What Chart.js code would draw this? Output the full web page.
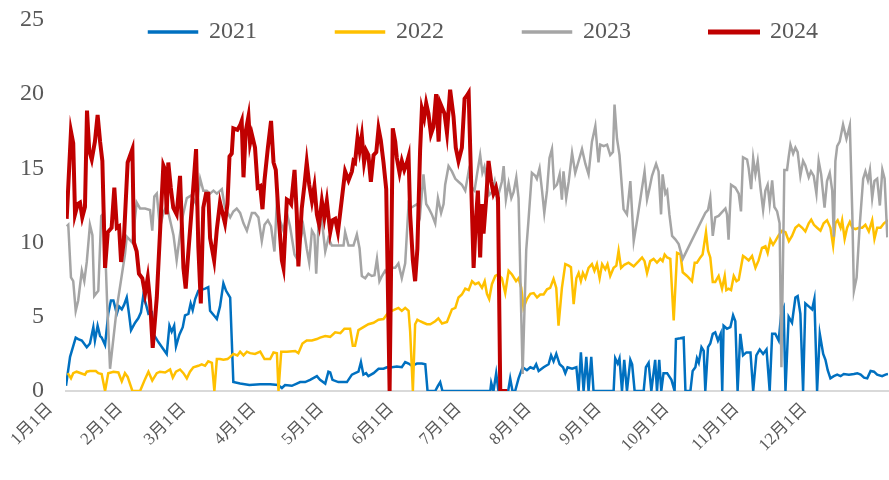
<!DOCTYPE html>
<html>
<head>
<meta charset="utf-8">
<script src="https://cdn.jsdelivr.net/npm/chart.js@4/dist/chart.umd.min.js"></script>
<style>
  html, body { margin: 0; padding: 0; background: #fff; }
</style>
</head>
<body>
<canvas id="chart" width="889" height="480"></canvas>
<script>
// x values are day of year (0 = 1月1日)
const monthStarts = [0, 31, 59, 90, 120, 151, 181, 212, 243, 273, 304, 334];
const monthLabels = ['1月1日', '2月1日', '3月1日', '4月1日', '5月1日', '6月1日', '7月1日', '8月1日', '9月1日', '10月1日', '11月1日', '12月1日'];
const yTicks = [0, 5, 10, 15, 20, 25];
const years = ['2021', '2022', '2023', '2024'];

const days2021 = [0, 1.8, 4.3, 5.4, 7.0, 9.2, 10.6, 12.1, 12.8, 14.0, 15.1, 15.8, 17.3, 18.7, 19.9, 21.0, 22.5, 23.5, 24.7, 25.7, 26.9, 27.9, 28.8, 30.6, 32.0, 33.2, 34.2, 35.3, 36.5, 38.0, 38.7, 40.9, 44.6, 45.8, 46.8, 47.9, 48.7, 50.2, 51.7, 52.7, 54.2, 55.2, 56.1, 57.2, 58.6, 61.6, 63.0, 63.8, 66.0, 66.8, 68.2, 69.7, 70.9, 72.7, 74.1, 77.1, 81.2, 86.0, 90.4, 93.9, 95.6, 97.0, 100.0, 102.2, 103.7, 105.9, 108.1, 111.1, 112.5, 114.8, 116.2, 117.0, 118.0, 120.6, 124.4, 126.6, 128.0, 129.5, 130.6, 131.7, 132.9, 133.9, 136.2, 138.4, 140.6, 142.1, 144.3, 146.5, 148.7, 150.2, 151.7, 153.2, 155.4, 157.6, 159.1, 160.1, 163.5, 164.7, 165.7, 166.7, 187.9, 188.3, 189.3, 190.5, 191.5, 195.8, 196.7, 197.7, 198.9, 200.4, 202.2, 204.1, 205.6, 207.1, 208.2, 209.3, 211.5, 213.7, 214.8, 215.9, 217.1, 218.6, 220.1, 221.1, 222.1, 224.1, 226.0, 227.0, 228.0, 229.2, 230.4, 231.4, 232.6, 233.6, 242.5, 243.2, 244.3, 245.1, 246.2, 247.2, 248.4, 249.9, 250.7, 251.8, 255.8, 256.8, 258.0, 259.2, 260.9, 261.7, 262.7, 263.6, 264.6, 266.2, 268.1, 269.5, 270.1, 272.0, 273.5, 274.3, 276.5, 277.5, 278.7, 279.4, 280.2, 281.4, 282.4, 283.1, 284.3, 285.3, 286.4, 287.5, 288.7, 289.9, 290.6, 291.2, 292.7, 294.2, 295.4, 296.4, 297.4, 298.6, 299.8, 301.3, 303.1, 304.3, 305.7, 307.2, 308.7, 310.2, 311.6, 312.7, 314.1, 315.6, 316.7, 317.8, 318.6, 320.0, 321.5, 323.0, 324.0, 325.2, 326.4, 327.4, 328.9, 330.4, 331.4, 332.6, 333.8, 335.3, 336.3, 337.3, 338.5, 340.0, 341.5, 343.0, 344.4, 346.7, 348.9, 350.4, 351.9, 353.4, 354.8, 356.3, 357.8, 359.2, 361.4, 362.9, 364.0];
const values2021 = [0.35, 2.3, 3.6, 3.5, 3.4, 2.95, 3.2, 4.3, 3.4, 4.4, 3.7, 3.6, 3.1, 5.2, 6.1, 6.1, 5.2, 5.7, 5.5, 5.8, 6.3, 5.2, 4.1, 4.6, 4.9, 5.3, 6.4, 5.9, 5.2, 5.3, 3.85, 3.3, 2.5, 4.4, 4.0, 4.4, 3.0, 3.8, 4.3, 5.1, 5.2, 5.9, 5.45, 6.2, 6.75, 6.9, 7.0, 5.4, 5.0, 4.85, 5.7, 7.25, 6.75, 6.3, 0.6, 0.5, 0.4, 0.45, 0.45, 0.4, 0.2, 0.4, 0.35, 0.5, 0.6, 0.6, 0.75, 1.0, 0.75, 0.5, 1.3, 1.25, 0.75, 0.6, 0.6, 1.1, 1.2, 1.3, 1.95, 1.1, 1.2, 1.0, 1.2, 1.5, 1.5, 1.6, 1.6, 1.65, 1.6, 1.95, 1.85, 1.7, 1.85, 1.85, 1.8, 0, 0, 0.35, 0.6, 0, 0, 0.55, 0, 1.2, 0, 0, 0.85, 0, 0, 0.85, 1.6, 1.4, 1.6, 1.5, 1.8, 1.35, 1.6, 1.8, 2.4, 2.0, 2.5, 1.8, 1.6, 1.2, 1.6, 1.5, 1.6, 0, 2.6, 0, 2.3, 0, 2.3, 0, 0, 2.2, 1.85, 2.2, 0, 2.1, 0, 2.1, 1.8, 0, 0, 1.6, 1.9, 0, 2.1, 0, 2.1, 0, 1.2, 1.2, 0.75, 0, 3.5, 3.55, 3.6, 0, 0, 1.35, 1.6, 2.2, 1.9, 2.95, 2.7, 0, 2.95, 3.2, 3.85, 3.95, 3.4, 3.85, 0, 4.4, 4.2, 4.3, 5.1, 4.7, 0, 3.85, 2.4, 2.6, 2.6, 0, 2.4, 2.8, 2.5, 2.8, 0, 3.85, 3.85, 3.4, 5.2, 5.6, 0, 5.0, 4.6, 6.3, 6.4, 5.2, 0, 5.9, 5.7, 5.5, 6.2, 0, 3.85, 2.5, 2.1, 1.4, 0.85, 1.0, 1.1, 1.0, 1.15, 1.1, 1.15, 1.2, 1.1, 0.9, 0.85, 1.35, 1.3, 1.1, 1.0, 1.1, 1.15];

const days2022 = [0.8, 2.2, 3.2, 4.7, 8.4, 9.2, 10.6, 13.2, 14.3, 15.8, 17.3, 18.7, 21.0, 23.2, 24.7, 26.1, 27.3, 29.4, 32.8, 35.0, 36.5, 38.2, 40.2, 41.6, 43.9, 46.1, 47.3, 48.7, 50.5, 52.0, 53.5, 54.9, 56.4, 58.6, 60.1, 61.6, 63.0, 64.6, 65.7, 66.8, 68.2, 69.7, 71.5, 72.7, 74.1, 75.9, 77.1, 78.6, 80.1, 81.5, 83.7, 86.0, 87.9, 90.4, 91.9, 93.4, 94.1, 95.3, 97.8, 101.5, 102.9, 104.7, 106.6, 108.9, 111.1, 112.5, 114.8, 117.0, 119.2, 121.5, 123.3, 125.8, 127.0, 128.0, 129.5, 131.7, 133.9, 136.2, 138.4, 140.6, 142.8, 145.0, 147.2, 148.7, 150.2, 151.7, 152.4, 153.6, 154.6, 155.6, 156.8, 158.3, 159.8, 161.3, 163.5, 164.9, 166.5, 168.7, 170.9, 172.4, 173.8, 175.3, 176.8, 178.3, 179.8, 181.2, 182.7, 184.2, 185.4, 186.4, 187.4, 188.6, 190.1, 191.3, 193.0, 194.5, 196.0, 197.5, 199.3, 200.4, 201.6, 202.6, 204.1, 205.6, 207.1, 208.6, 210.0, 211.5, 213.0, 214.4, 215.9, 217.1, 218.1, 219.6, 221.1, 222.6, 223.6, 224.8, 226.0, 227.0, 228.0, 228.9, 230.0, 231.4, 232.9, 234.0, 235.1, 236.3, 237.4, 238.8, 239.8, 241.0, 242.5, 243.7, 244.7, 245.8, 247.2, 249.1, 251.4, 253.6, 255.1, 256.2, 257.3, 258.7, 260.2, 261.7, 263.2, 264.2, 265.1, 266.2, 267.6, 269.1, 270.6, 272.1, 273.1, 275.0, 277.2, 278.4, 279.4, 280.9, 281.9, 283.4, 284.3, 285.3, 286.4, 287.5, 289.0, 290.5, 291.7, 292.4, 293.4, 294.5, 295.7, 296.9, 297.9, 299.8, 300.8, 302.3, 303.8, 305.3, 306.7, 308.2, 309.7, 310.7, 311.9, 313.1, 314.1, 315.6, 317.1, 318.6, 320.1, 321.5, 323.0, 324.5, 326.0, 327.4, 328.9, 330.0, 331.2, 332.6, 334.1, 335.5, 337.0, 338.5, 339.7, 340.7, 341.7, 343.0, 343.7, 344.8, 345.9, 347.1, 348.2, 349.6, 351.1, 352.6, 354.0, 355.5, 357.0, 358.0, 359.2, 360.7, 362.2, 364.0];
const values2022 = [1.2, 0.85, 1.2, 1.3, 1.1, 1.3, 1.35, 1.35, 1.2, 1.15, 0, 1.2, 1.3, 1.25, 0.65, 1.2, 0.95, 0, 0, 0.8, 1.3, 0.7, 1.2, 1.3, 1.25, 1.45, 0.9, 1.3, 1.45, 1.2, 0.85, 1.3, 1.6, 1.7, 1.8, 1.7, 2.0, 1.9, 0, 2.15, 2.15, 2.1, 2.15, 2.3, 2.5, 2.4, 2.65, 2.4, 2.65, 2.55, 2.5, 2.65, 2.15, 2.15, 2.6, 2.55, 0, 2.65, 2.65, 2.7, 2.55, 3.2, 3.4, 3.4, 3.5, 3.6, 3.7, 3.65, 3.95, 3.9, 4.2, 4.2, 3.05, 3.05, 4.1, 4.3, 4.5, 4.6, 4.8, 4.85, 5.3, 5.45, 5.6, 5.4, 5.6, 5.4, 4.0, 0, 4.5, 4.8, 4.7, 4.6, 4.5, 4.5, 4.7, 4.9, 4.55, 4.65, 5.5, 5.6, 6.3, 6.5, 6.9, 6.8, 7.4, 7.2, 7.3, 6.95, 7.4, 6.55, 6.2, 7.2, 7.75, 7.85, 7.6, 6.6, 8.1, 7.85, 7.4, 7.6, 6.95, 5.6, 6.2, 6.55, 6.6, 6.3, 6.5, 6.5, 6.85, 6.95, 7.55, 6.95, 4.4, 6.95, 8.55, 8.45, 8.35, 5.85, 7.6, 7.95, 7.4, 7.95, 7.6, 8.3, 8.55, 8.1, 8.55, 7.6, 8.55, 8.2, 8.55, 7.75, 8.3, 8.45, 9.45, 8.3, 8.5, 8.65, 8.4, 8.75, 9.0, 8.75, 7.95, 8.75, 8.9, 8.65, 8.9, 8.75, 9.2, 9.0, 8.9, 4.75, 9.3, 9.2, 8.0, 7.75, 7.4, 8.65, 8.65, 9.0, 9.2, 10.7, 9.45, 9.0, 7.35, 7.35, 7.75, 6.9, 7.75, 6.8, 6.9, 6.8, 7.75, 7.4, 7.5, 9.1, 9.0, 8.8, 9.1, 8.3, 8.8, 9.65, 9.75, 9.3, 10.2, 9.85, 10.1, 10.5, 10.8, 10.7, 10.1, 10.45, 11.0, 11.2, 11.0, 10.75, 11.3, 11.55, 11.2, 11.0, 10.8, 11.3, 11.5, 11.0, 9.8, 11.3, 11.5, 11.0, 11.5, 10.25, 11.0, 11.4, 11.0, 10.9, 11.0, 11.0, 11.2, 10.75, 11.5, 10.25, 11.0, 11.0, 11.3, 11.5];

const days2023 = [0.3, 1.0, 2.2, 3.2, 4.3, 5.4, 7.0, 8.1, 9.2, 10.6, 11.7, 12.5, 14.3, 15.6, 16.8, 18.2, 19.5, 22.5, 26.1, 26.9, 29.4, 31.3, 32.8, 35.0, 37.2, 38.2, 39.1, 40.2, 41.6, 43.1, 44.6, 46.1, 47.6, 49.0, 51.3, 53.5, 55.7, 57.9, 59.4, 60.8, 62.3, 63.8, 65.3, 66.8, 69.0, 70.4, 72.7, 74.1, 75.6, 77.1, 78.6, 80.1, 82.3, 83.7, 85.2, 86.7, 87.9, 89.4, 90.8, 92.3, 93.4, 94.8, 96.3, 97.8, 99.2, 101.2, 102.7, 103.7, 105.1, 106.6, 107.7, 108.9, 110.0, 110.8, 111.8, 113.3, 114.8, 116.2, 117.7, 119.9, 122.9, 123.6, 125.1, 127.3, 128.8, 130.0, 131.0, 132.5, 133.9, 135.4, 136.6, 137.7, 138.8, 139.9, 141.3, 142.8, 144.3, 145.8, 147.2, 148.7, 150.2, 151.7, 152.7, 153.9, 155.6, 156.8, 158.3, 159.5, 160.5, 162.0, 163.5, 164.7, 166.1, 167.2, 167.9, 169.4, 170.9, 172.4, 173.8, 175.3, 176.8, 178.3, 179.8, 180.9, 182.0, 183.4, 184.4, 185.3, 186.4, 187.4, 188.6, 189.8, 190.8, 191.8, 193.0, 193.8, 194.8, 196.0, 197.2, 198.2, 199.4, 200.4, 202.2, 203.8, 204.8, 206.3, 207.8, 208.5, 209.7, 210.8, 211.8, 213.0, 214.1, 215.2, 216.2, 217.4, 218.6, 219.6, 220.3, 221.5, 222.6, 224.1, 225.5, 227.0, 228.5, 230.0, 231.4, 232.9, 234.4, 235.8, 236.6, 238.1, 239.6, 241.0, 242.2, 242.9, 244.0, 245.1, 246.9, 248.4, 249.9, 251.4, 252.9, 254.4, 256.2, 257.3, 258.3, 259.5, 261.3, 262.4, 263.5, 264.2, 265.4, 266.2, 267.2, 268.4, 269.9, 271.3, 273.1, 283.1, 284.3, 285.3, 286.4, 287.5, 289.0, 290.2, 292.0, 292.7, 293.4, 294.5, 296.4, 297.9, 298.9, 299.8, 301.6, 302.3, 303.4, 304.3, 305.3, 306.3, 307.5, 308.7, 309.7, 310.7, 311.6, 312.7, 313.7, 314.9, 316.0, 316.8, 318.1, 319.3, 320.0, 320.8, 322.0, 323.0, 324.0, 325.2, 326.4, 327.4, 328.9, 329.9, 331.1, 332.3, 333.3, 334.4, 335.9, 337.0, 338.2, 339.3, 340.0, 340.7, 341.5, 342.6, 344.1, 345.6, 347.1, 348.2, 348.9, 350.1, 351.5, 353.0, 354.0, 355.1, 356.0, 357.0, 358.0, 359.2, 360.4, 361.5, 362.5, 363.7];
const values2023 = [11.1, 11.2, 7.65, 7.4, 5.4, 6.1, 8.1, 7.4, 8.7, 11.2, 10.5, 6.4, 6.75, 11.8, 12.0, 6.0, 1.5, 5.6, 9.2, 10.4, 10.0, 12.7, 12.3, 12.3, 12.2, 10.8, 13.1, 13.3, 11.0, 12.0, 12.5, 11.5, 10.5, 8.8, 11.5, 13.0, 13.2, 12.5, 14.3, 13.5, 13.5, 13.3, 13.5, 13.3, 13.6, 12.35, 11.7, 12.1, 12.3, 12.0, 11.3, 10.8, 12.0, 12.0, 11.7, 10.1, 11.2, 11.5, 11.1, 9.4, 12.8, 11.5, 10.8, 12.0, 11.1, 9.2, 8.8, 10.1, 11.1, 9.6, 8.65, 10.8, 10.5, 7.9, 11.1, 11.5, 9.4, 10.3, 9.8, 9.8, 9.8, 10.7, 9.8, 9.8, 10.55, 9.6, 7.75, 7.6, 7.9, 7.75, 7.8, 8.9, 7.4, 7.75, 8.1, 7.8, 8.3, 8.3, 8.6, 7.6, 8.6, 12.6, 12.35, 12.45, 12.6, 11.9, 14.6, 12.6, 12.35, 11.9, 11.3, 13.0, 12.0, 12.6, 13.9, 15.15, 14.8, 14.3, 14.1, 13.9, 13.5, 14.8, 13.7, 13.5, 14.6, 15.9, 14.7, 15.1, 14.1, 13.2, 13.4, 14.1, 12.9, 13.4, 14.1, 15.15, 12.9, 14.0, 13.0, 13.4, 14.4, 13.0, 1.15, 9.5, 11.5, 14.7, 14.5, 14.3, 15.0, 13.5, 12.0, 13.5, 15.7, 16.3, 13.7, 13.9, 14.6, 12.9, 14.8, 13.0, 14.1, 16.05, 14.7, 15.5, 16.3, 15.3, 14.6, 16.8, 17.85, 15.4, 16.6, 16.5, 16.6, 15.9, 16.1, 19.3, 17.0, 15.9, 12.25, 11.9, 14.15, 10.1, 11.5, 13.0, 14.8, 12.9, 13.6, 14.5, 15.3, 14.8, 11.9, 14.6, 13.3, 13.5, 11.9, 10.45, 10.2, 9.9, 8.9, 12.0, 12.2, 13.0, 10.45, 11.7, 11.8, 12.0, 12.3, 11.9, 10.2, 13.9, 13.7, 13.3, 12.1, 15.75, 15.6, 15.0, 13.6, 15.7, 14.6, 15.5, 13.7, 12.2, 13.5, 13.9, 12.6, 14.2, 12.4, 12.1, 11.3, 1.6, 14.9, 14.9, 15.75, 16.6, 16.0, 16.4, 16.1, 14.5, 15.5, 15.2, 14.4, 14.8, 14.5, 13.3, 15.5, 14.6, 12.35, 14.15, 14.7, 13.5, 10.4, 15.5, 16.5, 16.8, 17.95, 17.0, 17.9, 11.9, 6.75, 7.65, 11.2, 14.3, 14.8, 14.2, 14.9, 13.0, 14.15, 14.3, 12.5, 14.9, 14.3, 10.35];

const days2024 = [0.3, 2.2, 3.2, 4.0, 5.2, 6.2, 7.2, 8.4, 9.3, 10.3, 11.4, 12.8, 14.0, 15.1, 16.1, 17.3, 18.5, 20.2, 21.4, 22.5, 23.5, 24.4, 25.6, 27.3, 29.4, 30.1, 31.3, 32.3, 33.8, 35.0, 36.2, 37.2, 38.4, 40.2, 43.1, 43.9, 44.6, 45.3, 46.4, 47.5, 49.0, 50.5, 52.0, 53.0, 54.2, 55.7, 57.6, 58.6, 59.7, 60.8, 62.0, 63.0, 63.8, 65.6, 66.8, 68.2, 70.4, 71.5, 72.4, 73.4, 74.1, 75.9, 77.1, 77.8, 78.6, 79.6, 80.8, 81.5, 82.3, 83.7, 84.9, 86.0, 87.0, 87.9, 89.4, 90.8, 91.9, 92.9, 94.1, 95.6, 96.3, 97.8, 98.8, 99.7, 101.2, 102.2, 102.9, 104.4, 105.6, 106.6, 107.7, 108.9, 110.0, 111.1, 112.1, 113.3, 114.4, 115.5, 117.0, 118.0, 119.2, 120.4, 122.2, 123.6, 125.1, 126.6, 127.3, 128.0, 129.1, 130.0, 131.0, 132.0, 132.9, 133.9, 135.0, 136.2, 137.4, 138.4, 139.4, 140.6, 141.8, 143.3, 144.7, 145.8, 146.5, 147.7, 148.7, 149.8, 151.0, 151.7, 152.4, 153.6, 154.6, 155.6, 156.8, 157.6, 158.6, 159.5, 160.5, 161.6, 162.7, 163.9, 165.0, 165.7, 167.6, 168.7, 170.1, 171.6, 172.6, 173.8, 175.3, 176.5, 177.5, 178.3, 179.4, 180.5, 181.5, 182.4, 183.4, 184.2, 184.9, 186.0, 187.1, 188.3, 189.3, 190.4, 191.3, 192.3, 195.4];
const values2024 = [11.6, 17.5, 16.7, 11.9, 12.6, 12.7, 11.7, 12.4, 18.9, 16.2, 15.6, 16.8, 18.6, 16.8, 15.5, 8.3, 10.7, 11.0, 13.7, 11.0, 11.1, 8.7, 10.1, 15.4, 16.3, 10.0, 9.4, 7.9, 7.6, 6.55, 7.65, 6.1, 2.9, 6.3, 15.2, 14.9, 11.9, 15.4, 13.7, 12.35, 11.9, 14.5, 8.3, 6.9, 9.4, 12.35, 16.3, 9.7, 5.9, 12.35, 13.3, 13.3, 10.3, 8.8, 10.9, 12.7, 11.3, 12.6, 15.8, 16.0, 17.7, 17.6, 17.9, 18.2, 14.4, 17.5, 18.5, 16.7, 17.3, 16.4, 13.7, 13.8, 12.25, 14.2, 16.4, 18.2, 15.4, 14.9, 11.9, 8.8, 8.3, 12.9, 12.8, 12.6, 14.9, 11.9, 8.4, 12.3, 13.9, 15.4, 13.9, 12.8, 13.8, 11.9, 11.2, 12.8, 11.7, 12.8, 10.7, 11.5, 11.6, 10.7, 13.0, 14.8, 14.2, 14.8, 15.5, 15.4, 17.05, 16.2, 17.2, 15.4, 16.2, 15.9, 14.1, 15.9, 16.1, 17.7, 16.9, 15.4, 13.6, 0, 17.7, 16.8, 15.7, 14.7, 15.5, 14.9, 15.4, 15.8, 11.9, 8.8, 7.4, 9.6, 16.2, 19.0, 18.4, 19.4, 18.7, 17.3, 17.8, 20.0, 16.8, 19.4, 18.7, 17.4, 20.3, 18.5, 16.4, 15.5, 16.4, 19.7, 19.9, 20.1, 14.1, 8.3, 11.5, 13.5, 9.0, 12.6, 10.6, 12.8, 15.5, 14.1, 13.3, 13.7, 13.0, 0, 0];

const seriesDays = [days2021, days2022, days2023, days2024];
const seriesValues = [values2021, values2022, values2023, values2024];
const colors = ['#0070C0', '#FFC000', '#A5A5A5', '#C00000'];
const widths = [2.5, 2.5, 2.5, 4];

const textColor = '#595959';
const serif = "'Liberation Serif', 'Noto Sans CJK SC', serif";

// legend sits inside the plot, below the "25" tick, as in the original
const legendInside = {
  id: 'legendInside',
  afterLayout(chart) {
    const lg = chart.legend;
    const pad = lg.options.labels.padding;
    lg.left = 149 - pad;
    lg.right = chart.width + 600;
    lg.top = 20 - pad;
    lg.bottom = 80;
  }
};

new Chart(document.getElementById('chart'), {
  type: 'line',
  data: {
    datasets: years.map((year, i) => ({
      label: year,
      data: seriesDays[i].map((d, j) => ({ x: d, y: seriesValues[i][j] })),
      borderColor: colors[i],
      backgroundColor: colors[i],
      borderWidth: widths[i],
      pointRadius: 0,
      tension: 0,
      order: 3 - i
    }))
  },
  options: {
    responsive: false,
    animation: false,
    events: [],
    layout: { padding: { top: 19, right: 1, left: 0, bottom: 0 } },
    plugins: {
      tooltip: { enabled: false },
      legend: {
        position: 'top',
        align: 'start',
        maxHeight: 1,
        labels: {
          color: textColor,
          font: { family: serif, size: 24 },
          boxWidth: 48,
          boxHeight: 1,
          padding: 79,
          sort: (a, b) => a.datasetIndex - b.datasetIndex
        }
      }
    },
    scales: {
      x: {
        type: 'linear',
        min: 0,
        max: 364,
        afterBuildTicks: (axis) => { axis.ticks = monthStarts.map((v) => ({ value: v })); },
        afterFit: (s) => { s.height = 89; },
        ticks: {
          autoSkip: false,
          minRotation: 45,
          maxRotation: 45,
          padding: 8,
          labelOffset: -16,
          color: textColor,
          font: { family: serif, size: 17 },
          callback: (v, i) => monthLabels[i]
        },
        grid: { display: false, drawTicks: false },
        border: { display: true, color: '#D9D9D9', width: 2 }
      },
      y: {
        min: 0,
        max: 25,
        afterBuildTicks: (axis) => { axis.ticks = yTicks.map((v) => ({ value: v })); },
        afterFit: (s) => { s.width = 66; s.paddingTop = 0; s.paddingBottom = 0; },
        ticks: {
          padding: 22,
          color: textColor,
          font: { family: serif, size: 24 }
        },
        grid: { display: false, drawTicks: false },
        border: { display: false }
      }
    }
  },
  plugins: [legendInside]
});
</script>
</body>
</html>
